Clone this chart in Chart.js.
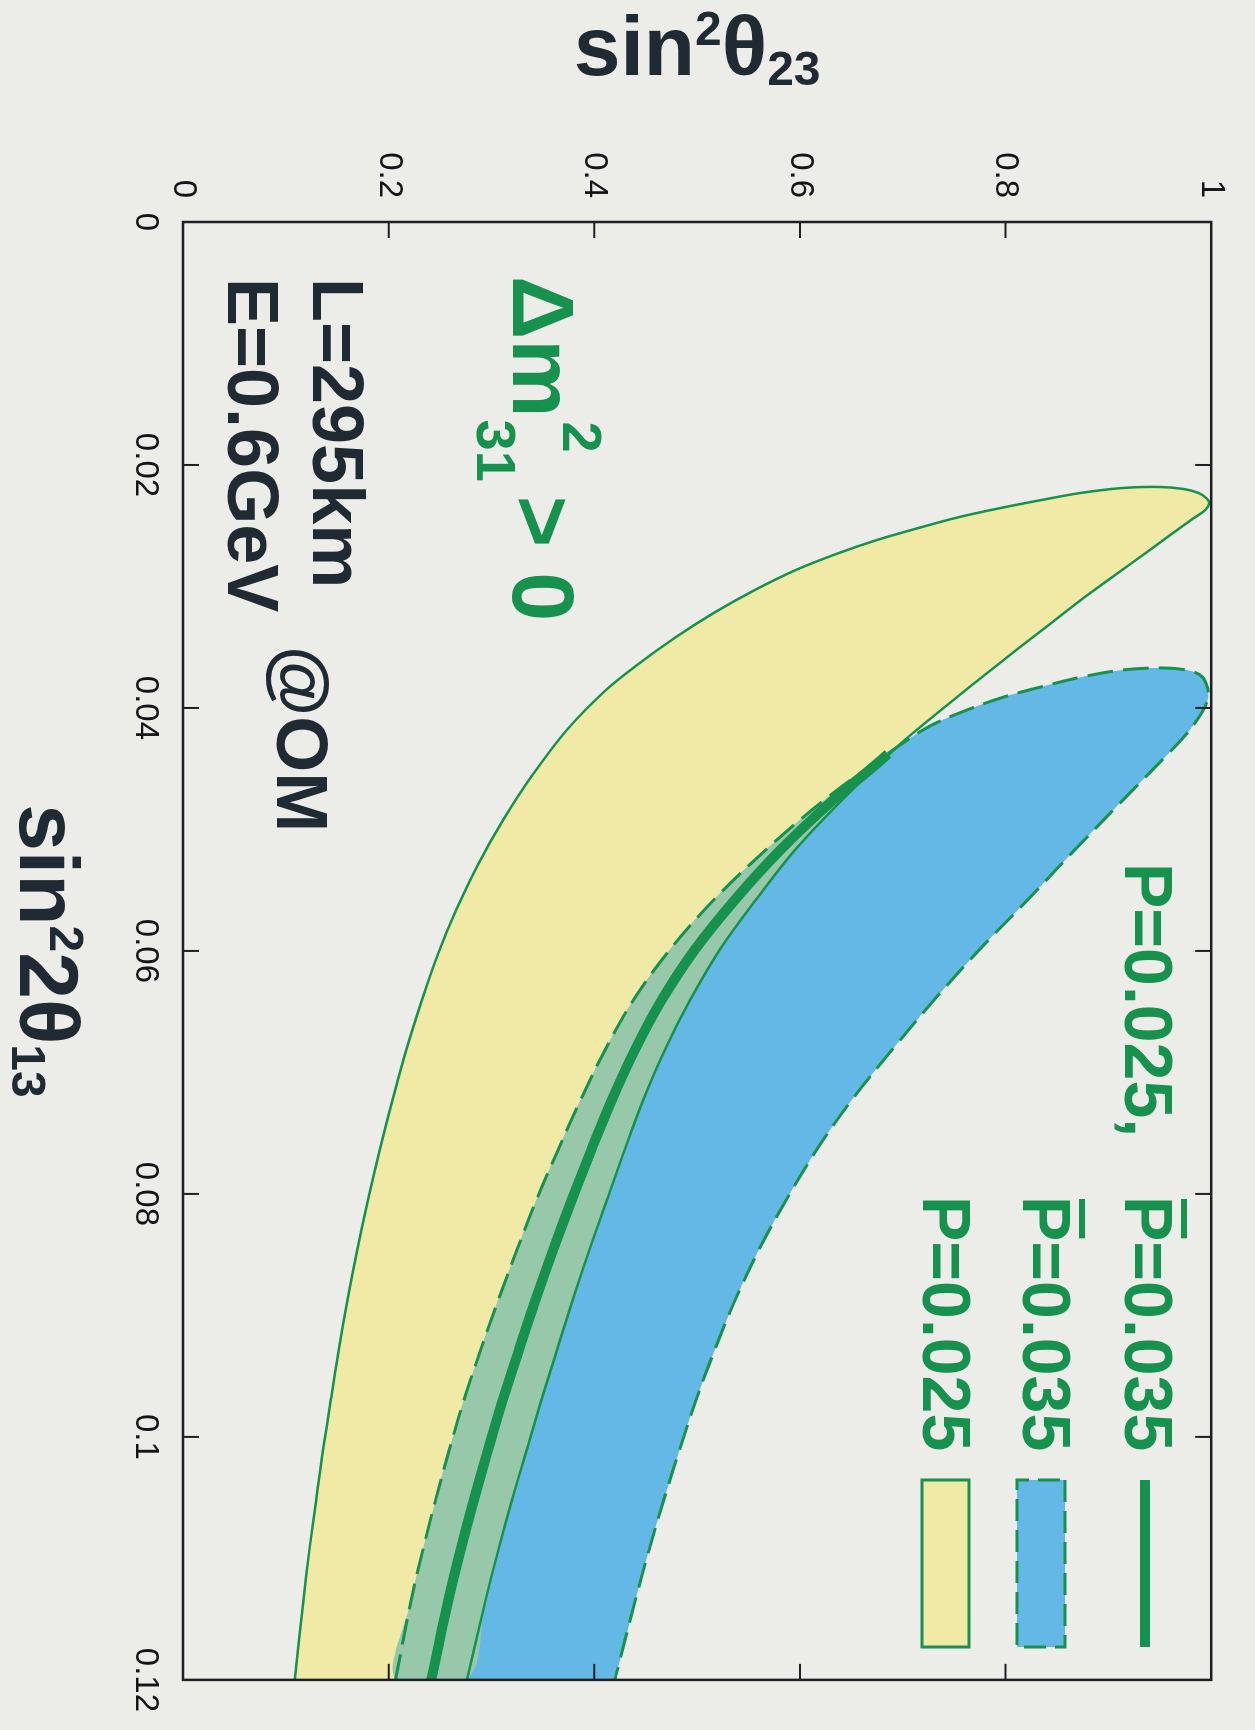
<!DOCTYPE html>
<html lang="en">
<head>
<meta charset="UTF-8">
<title>sin²θ23 - sin²2θ13</title>
<script src="https://cdn.jsdelivr.net/npm/chart.js@4.4.1/dist/chart.umd.min.js"></script>
<style>
    html, body { margin: 0; padding: 0; width: 1255px; height: 1730px; overflow: hidden; background: #ecece8; }
    /* the plot is laid out landscape and turned a quarter turn clockwise */
    #figure { position: absolute; left: 0; top: 0; width: 1730px; height: 1255px;
              transform-origin: 0 0; transform: translate(1255px, 0) rotate(90deg); }
</style>
</head>
<body>
<div id="figure"><canvas id="plot"></canvas></div>

<script>
    // axes
    const s13Ticks = [0, 0.02, 0.04, 0.06, 0.08, 0.1, 0.12];
    const s13TickLabels = ['0', '0.02', '0.04', '0.06', '0.08', '0.1', '0.12'];
    const s23Ticks = [0, 0.2, 0.4, 0.6, 0.8, 1];
    const s23TickLabels = ['0', '0.2', '0.4', '0.6', '0.8', '1'];

    // P = 0.025 band, [sin^2 2theta13, sin^2 theta23], from the tip down
    const yellowOuter = [
        [0.02313, 0.9981], [0.02272, 0.9952], [0.02230, 0.9876], [0.02198, 0.9733],
        [0.02181, 0.9495], [0.02189, 0.9143], [0.02230, 0.8733], [0.02288, 0.8352],
        [0.02354, 0.7952], [0.02428, 0.7552], [0.02519, 0.7152], [0.02617, 0.6752],
        [0.02733, 0.6352], [0.02864, 0.5962], [0.03029, 0.5562], [0.03218, 0.5162],
        [0.03424, 0.4781], [0.03638, 0.4429], [0.03852, 0.4114], [0.04181, 0.3733],
        [0.04551, 0.3400], [0.04922, 0.3114], [0.05292, 0.2867], [0.05663, 0.2657],
        [0.06033, 0.2476], [0.06403, 0.2324], [0.06815, 0.2171], [0.07226, 0.2038],
        [0.07638, 0.1914], [0.08049, 0.1800], [0.08461, 0.1695], [0.08872, 0.1600],
        [0.09284, 0.1514], [0.09695, 0.1438], [0.10107, 0.1362], [0.10519, 0.1295],
        [0.10930, 0.1229], [0.11342, 0.1171], [0.12, 0.1086]
    ];
    const yellowInner = [
        [0.02370, 0.9943], [0.02444, 0.9819], [0.02584, 0.9590], [0.02708, 0.9390],
        [0.02905, 0.9067], [0.03111, 0.8733], [0.03317, 0.8419], [0.03523, 0.8105],
        [0.03720, 0.7810], [0.03926, 0.7505], [0.04123, 0.7219], [0.04329, 0.6933],
        [0.04757, 0.6410], [0.05169, 0.5952], [0.05580, 0.5571], [0.05992, 0.5219],
        [0.06403, 0.4933], [0.06815, 0.4686], [0.07226, 0.4476], [0.07638, 0.4295],
        [0.08049, 0.4124], [0.08461, 0.3952], [0.08872, 0.3790], [0.09284, 0.3638],
        [0.09695, 0.3486], [0.10107, 0.3343], [0.10519, 0.3200], [0.10930, 0.3067],
        [0.11342, 0.2943], [0.12, 0.2762]
    ];

    // Pbar = 0.035 band
    const blueLeft = [
        [0.03827, 0.9962], [0.03745, 0.9914], [0.03695, 0.9800], [0.03671, 0.9543],
        [0.03687, 0.9143], [0.03745, 0.8743], [0.03827, 0.8343], [0.03918, 0.7952],
        [0.04041, 0.7552], [0.04156, 0.7248], [0.04329, 0.6933], [0.04757, 0.6238],
        [0.05169, 0.5667], [0.05580, 0.5162], [0.05992, 0.4733], [0.06403, 0.4381],
        [0.06815, 0.4105], [0.07226, 0.3867], [0.07638, 0.3648], [0.08049, 0.3438],
        [0.08461, 0.3248], [0.08872, 0.3067], [0.09284, 0.2895], [0.09695, 0.2733],
        [0.10107, 0.2590], [0.10519, 0.2457], [0.10930, 0.2333], [0.11342, 0.2219],
        [0.12, 0.2067]
    ];
    const blueRight = [
        [0.03909, 0.9971], [0.03984, 0.9943], [0.04082, 0.9876], [0.04222, 0.9752],
        [0.04403, 0.9552], [0.04584, 0.9343], [0.04757, 0.9143], [0.05169, 0.8672],
        [0.05580, 0.8214], [0.05992, 0.7743], [0.06403, 0.7305], [0.06815, 0.6895],
        [0.07226, 0.6505], [0.07638, 0.6162], [0.08049, 0.5867], [0.08461, 0.5600],
        [0.08872, 0.5371], [0.09284, 0.5171], [0.09695, 0.4990], [0.10107, 0.4829],
        [0.10519, 0.4676], [0.10930, 0.4533], [0.11342, 0.4400], [0.12, 0.4200]
    ];

    // P = 0.025 and Pbar = 0.035 together
    const jointLine = [
        [0.04379, 0.6857], [0.04510, 0.6676], [0.04757, 0.6324], [0.05169, 0.5810],
        [0.05580, 0.5367], [0.05992, 0.4976], [0.06403, 0.4657], [0.06815, 0.4395],
        [0.07226, 0.4171], [0.07638, 0.3971], [0.08049, 0.3781], [0.08461, 0.3600],
        [0.08872, 0.3429], [0.09284, 0.3267], [0.09695, 0.3110], [0.10107, 0.2967],
        [0.10519, 0.2829], [0.10930, 0.2700], [0.11342, 0.2581], [0.12, 0.2414]
    ];
    const crossS13 = 0.04329; // where the two band edges meet

    const GREEN = '#17924e';
    const YELLOW = '#f1eaa6';
    const BLUE = '#64b8e6';
    const TEAL = '#98c8aa';
    const INK = '#1f2a33';
    const FAMILY = '"Liberation Sans", Arial, Helvetica, sans-serif';

    let pts = arr => arr.map(p => ({x: p[0], y: p[1]}));

    let yellowShape = yellowOuter.slice().reverse().concat(yellowInner);
    let blueShape = blueLeft.slice().reverse().concat(blueRight);
    let tealShape = blueLeft.filter(p => p[0] >= crossS13)
        .concat(yellowInner.filter(p => p[0] >= crossS13).reverse());

    let area = (data, color, order) => ({
        data: pts(data), showLine: true, fill: 'shape', backgroundColor: color,
        borderWidth: 0, borderColor: 'rgba(0,0,0,0)', pointRadius: 0, tension: 0.35, order: order
    });
    let edge = (data, width, dash, order) => ({
        data: pts(data), showLine: true, fill: false, borderColor: GREEN, borderWidth: width,
        borderDash: dash, pointRadius: 0, tension: 0.35, order: order
    });

    // draw a run of text pieces (sizes, raised/lowered pieces, overbars)
    function drawPieces(ctx, pieces, x, y, color) {
        let cx = x;
        pieces.forEach(p => {
            ctx.font = 'bold ' + p.size + 'px ' + FAMILY;
            ctx.fillStyle = color;
            ctx.fillText(p.t, cx, y + (p.dy || 0));
            let w = ctx.measureText(p.t).width;
            if (p.bar) ctx.fillRect(cx + 3, y - 62, w - 6, 6);
            cx += w + (p.gap || 0);
        });
        return cx;
    }
    function piecesWidth(ctx, pieces) {
        let w = 0;
        pieces.forEach(p => {
            ctx.font = 'bold ' + p.size + 'px ' + FAMILY;
            w += ctx.measureText(p.t).width + (p.gap || 0);
        });
        return w;
    }

    const decorations = {
        id: 'decorations',
        afterDraw(chart) {
            let ctx = chart.ctx;
            let a = chart.chartArea;
            let sx = chart.scales.x, sy = chart.scales.y;
            ctx.save();

            // frame and inward ticks on every side
            ctx.strokeStyle = '#1d1f24';
            ctx.lineWidth = 2.5;
            ctx.strokeRect(a.left, a.top, a.right - a.left, a.bottom - a.top);
            ctx.lineWidth = 2;
            ctx.beginPath();
            s13Ticks.slice(1, -1).forEach(v => {
                let px = sx.getPixelForValue(v);
                ctx.moveTo(px, a.bottom); ctx.lineTo(px, a.bottom - 16);
                ctx.moveTo(px, a.top); ctx.lineTo(px, a.top + 16);
            });
            s23Ticks.slice(1, -1).forEach(v => {
                let py = sy.getPixelForValue(v);
                ctx.moveTo(a.left, py); ctx.lineTo(a.left + 16, py);
                ctx.moveTo(a.right, py); ctx.lineTo(a.right - 16, py);
            });
            ctx.stroke();

            ctx.textBaseline = 'alphabetic';
            ctx.textAlign = 'left';

            // axis titles
            let xTitle = [{t: 'sin', size: 84}, {t: '2', size: 48, dy: -30}, {t: '2θ', size: 84}, {t: '13', size: 48, dy: 8}];
            let cx = (a.left + a.right) / 2;
            drawPieces(ctx, xTitle, cx - piecesWidth(ctx, xTitle) / 2, 1235, INK);

            let yTitle = [{t: 'sin', size: 84}, {t: '2', size: 48, dy: -30}, {t: 'θ', size: 84}, {t: '23', size: 48, dy: 10}];
            ctx.save();
            ctx.translate(75, (a.top + a.bottom) / 2);
            ctx.rotate(-Math.PI / 2);
            drawPieces(ctx, yTitle, -piecesWidth(ctx, yTitle) / 2, 0, INK);
            ctx.restore();

            // legend
            let col = 1196, keyL = 1480, keyR = 1647;
            drawPieces(ctx, [{t: 'P=0.025,', size: 68}], 863, 130, GREEN);
            drawPieces(ctx, [{t: 'P', size: 68, bar: true}, {t: '=0.035', size: 68}], col, 130, GREEN);
            drawPieces(ctx, [{t: 'P', size: 68, bar: true}, {t: '=0.035', size: 68}], col, 232, GREEN);
            drawPieces(ctx, [{t: 'P=0.025', size: 68}], col, 332, GREEN);

            ctx.strokeStyle = GREEN;
            ctx.lineWidth = 10;
            ctx.beginPath(); ctx.moveTo(keyL, 110); ctx.lineTo(keyR, 110); ctx.stroke();

            ctx.fillStyle = BLUE;
            ctx.fillRect(keyL, 190, keyR - keyL, 48);
            ctx.lineWidth = 3;
            ctx.setLineDash([22, 9]);
            ctx.strokeRect(keyL, 190, keyR - keyL, 48);
            ctx.setLineDash([]);

            ctx.fillStyle = YELLOW;
            ctx.fillRect(keyL, 286, keyR - keyL, 47);
            ctx.strokeRect(keyL, 286, keyR - keyL, 47);

            // mass ordering and setup notes
            let m = drawPieces(ctx, [{t: 'Δm', size: 88}], 276, 742, GREEN);
            drawPieces(ctx, [{t: '2', size: 56}], m + 4, 692, GREEN);
            let s = drawPieces(ctx, [{t: '31', size: 56}], m + 2, 778, GREEN);
            drawPieces(ctx, [{t: '>', size: 88, gap: 25}, {t: '0', size: 88}], s + 14, 742, GREEN);

            drawPieces(ctx, [{t: 'L=295km', size: 72}], 278, 942, INK);
            drawPieces(ctx, [{t: 'E=0.6GeV', size: 72}], 278, 1027, INK);
            drawPieces(ctx, [{t: '@OM', size: 72}], 646, 978, INK);

            ctx.restore();
        }
    };

    let tickFont = {family: FAMILY, size: 33};

    let chart = new Chart(document.querySelector('#plot').getContext('2d'), {
        type: 'scatter',
        data: {
            datasets: [
                area(yellowShape, YELLOW, 10),
                area(blueShape, BLUE, 9),
                area(tealShape, TEAL, 8),
                edge(yellowShape, 2.5, [], 5),
                edge(blueShape, 3, [26, 10], 4),
                edge(jointLine, 10, [], 1)
            ]
        },
        options: {
            responsive: true,
            maintainAspectRatio: false,
            animation: false,
            events: [],
            layout: {padding: {top: 22, right: 50, left: 0, bottom: 0}},
            plugins: {legend: {display: false}, tooltip: {enabled: false}},
            scales: {
                x: {
                    type: 'linear', position: 'bottom', min: 0, max: 0.12,
                    grid: {display: false, drawTicks: false}, border: {display: false},
                    afterBuildTicks: scale => { scale.ticks = s13Ticks.map(v => ({value: v})); },
                    afterFit: scale => { scale.height = 183; },
                    ticks: {
                        font: tickFont, color: '#121417', padding: 18, maxRotation: 0, autoSkip: false,
                        callback: (value, index) => s13TickLabels[index]
                    }
                },
                y: {
                    type: 'linear', position: 'left', min: 0, max: 1,
                    grid: {display: false, drawTicks: false}, border: {display: false},
                    afterBuildTicks: scale => { scale.ticks = s23Ticks.map(v => ({value: v})); },
                    afterFit: scale => { scale.width = 222; },
                    ticks: {
                        font: tickFont, color: '#121417', padding: 24, autoSkip: false,
                        callback: (value, index) => s23TickLabels[index]
                    }
                }
            }
        },
        plugins: [decorations]
    });
</script>
</body>
</html>
